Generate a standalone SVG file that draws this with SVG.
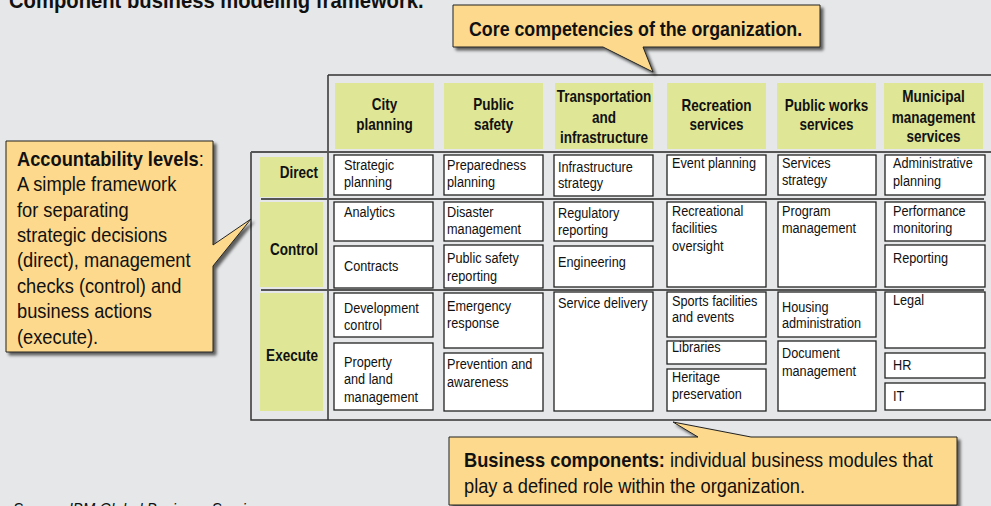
<svg xmlns="http://www.w3.org/2000/svg" width="991" height="506" viewBox="0 0 991 506">
<defs>
<filter id="sh" x="-10%" y="-10%" width="130%" height="130%">
<feDropShadow dx="3" dy="3" stdDeviation="1.5" flood-color="#000" flood-opacity="0.6"/>
</filter>
</defs>
<style>
text{font-family:"Liberation Sans",Arial,sans-serif;fill:#111;transform-box:fill-box}
.t{font-size:15.5px;transform:scaleX(.82);transform-origin:0 50%}
.h{font-size:16.5px;font-weight:bold;text-anchor:middle;transform:scaleX(.82);transform-origin:50% 50%}
.rl{font-size:16.5px;font-weight:bold;text-anchor:end;transform:scaleX(.82);transform-origin:100% 50%}
.c{font-size:21px;transform:scaleX(.87);transform-origin:0 50%}
.ttl{font-size:22px;font-weight:bold;transform:scaleX(.92);transform-origin:0 50%}
.cc{font-size:20px;font-weight:bold;transform:scaleX(.89);transform-origin:0 50%}
.src{font-size:17px;font-style:italic;transform:scaleX(.88);transform-origin:0 50%}
.b{font-weight:bold}
.hdr{fill:#dfe696}
.cell{fill:#fff;stroke:#222;stroke-width:1.3}
.co{fill:#fdd98d;stroke:#222;stroke-width:1;filter:url(#sh)}
.gl{fill:none;stroke:#333;stroke-width:1.5}
.sep{fill:none;stroke:#555;stroke-width:2}
</style>
<rect width="991" height="506" fill="#e6e7e8"/>
<text x="9" y="8" class="ttl">Component business modeling framework.</text>

<g id="connectors">
<path class="gl" d="M328,75 H995 M328,75 V420 M251,152 V420 H995"/>
<path class="sep" d="M251,152 H995 M261,199 H984 M261,290 H984"/>
</g>

<g id="headers">
<g id="h-city"><rect class="hdr" x="335" y="83" width="99" height="66"/><text class="h" x="384.5" y="110">City</text><text class="h" x="384.5" y="130">planning</text></g>
<g id="h-safety"><rect class="hdr" x="444" y="83" width="99" height="66"/><text class="h" x="493.5" y="110">Public</text><text class="h" x="493.5" y="130">safety</text></g>
<g id="h-transport"><rect class="hdr" x="555" y="83" width="98" height="66"/><text class="h" x="604" y="102">Transportation</text><text class="h" x="604" y="123">and</text><text class="h" x="604" y="143">infrastructure</text></g>
<g id="h-recreation"><rect class="hdr" x="667" y="83" width="99" height="66"/><text class="h" x="716.5" y="111">Recreation</text><text class="h" x="716.5" y="130">services</text></g>
<g id="h-works"><rect class="hdr" x="777" y="83" width="99" height="66"/><text class="h" x="826.5" y="111">Public works</text><text class="h" x="826.5" y="130">services</text></g>
<g id="h-municipal"><rect class="hdr" x="884" y="83" width="99" height="66"/><text class="h" x="933.5" y="102">Municipal</text><text class="h" x="933.5" y="123">management</text><text class="h" x="933.5" y="142">services</text></g>
</g>

<g id="rows">
<g id="r-direct"><rect class="hdr" x="260" y="157" width="63" height="40"/><text class="rl" x="318" y="178">Direct</text></g>
<g id="r-control"><rect class="hdr" x="260" y="202" width="63" height="85"/><text class="rl" x="318" y="255">Control</text></g>
<g id="r-execute"><rect class="hdr" x="260" y="293" width="63" height="118"/><text class="rl" x="318" y="361">Execute</text></g>
</g>

<g id="cells">
<g id="c-strategic"><rect class="cell" x="334" y="155" width="99" height="40"/><text class="t" x="344" y="170">Strategic</text><text class="t" x="344" y="187">planning</text></g>
<g id="c-analytics"><rect class="cell" x="334" y="202" width="99" height="39"/><text class="t" x="344" y="217">Analytics</text></g>
<g id="c-contracts"><rect class="cell" x="334" y="246" width="99" height="42"/><text class="t" x="344" y="271">Contracts</text></g>
<g id="c-devcontrol"><rect class="cell" x="334" y="293" width="99" height="44"/><text class="t" x="344" y="313">Development</text><text class="t" x="344" y="330">control</text></g>
<g id="c-property"><rect class="cell" x="334" y="343" width="99" height="67"/><text class="t" x="344" y="367">Property</text><text class="t" x="344" y="384">and land</text><text class="t" x="344" y="402">management</text></g>

<g id="c-preparedness"><rect class="cell" x="444" y="155" width="99" height="40"/><text class="t" x="447" y="170">Preparedness</text><text class="t" x="447" y="187">planning</text></g>
<g id="c-disaster"><rect class="cell" x="444" y="202" width="99" height="39"/><text class="t" x="447" y="217">Disaster</text><text class="t" x="447" y="234">management</text></g>
<g id="c-psreporting"><rect class="cell" x="444" y="245" width="99" height="43"/><text class="t" x="447" y="263">Public safety</text><text class="t" x="447" y="281">reporting</text></g>
<g id="c-emergency"><rect class="cell" x="444" y="293" width="99" height="55"/><text class="t" x="447" y="311">Emergency</text><text class="t" x="447" y="328">response</text></g>
<g id="c-prevention"><rect class="cell" x="444" y="353" width="99" height="58"/><text class="t" x="447" y="369">Prevention and</text><text class="t" x="447" y="387">awareness</text></g>

<g id="c-infrastrategy"><rect class="cell" x="554" y="155" width="99" height="41"/><text class="t" x="558" y="172">Infrastructure</text><text class="t" x="558" y="188">strategy</text></g>
<g id="c-regulatory"><rect class="cell" x="554" y="202" width="99" height="39"/><text class="t" x="558" y="218">Regulatory</text><text class="t" x="558" y="235">reporting</text></g>
<g id="c-engineering"><rect class="cell" x="554" y="246" width="99" height="41"/><text class="t" x="558" y="267">Engineering</text></g>
<g id="c-servicedelivery"><rect class="cell" x="554" y="292" width="99" height="119"/><text class="t" x="558" y="308">Service delivery</text></g>

<g id="c-event"><rect class="cell" x="667" y="155" width="99" height="40"/><text class="t" x="672" y="168">Event planning</text></g>
<g id="c-recfacilities"><rect class="cell" x="667" y="202" width="99" height="85"/><text class="t" x="672" y="216">Recreational</text><text class="t" x="672" y="233">facilities</text><text class="t" x="672" y="251">oversight</text></g>
<g id="c-sports"><rect class="cell" x="667" y="292" width="99" height="45"/><text class="t" x="672" y="306">Sports facilities</text><text class="t" x="672" y="322">and events</text></g>
<g id="c-libraries"><rect class="cell" x="667" y="341" width="99" height="23"/><text class="t" x="672" y="352">Libraries</text></g>
<g id="c-heritage"><rect class="cell" x="667" y="369" width="99" height="42"/><text class="t" x="672" y="382">Heritage</text><text class="t" x="672" y="399">preservation</text></g>

<g id="c-servstrategy"><rect class="cell" x="778" y="155" width="98" height="40"/><text class="t" x="782" y="168">Services</text><text class="t" x="782" y="185">strategy</text></g>
<g id="c-program"><rect class="cell" x="778" y="202" width="98" height="85"/><text class="t" x="782" y="216">Program</text><text class="t" x="782" y="233">management</text></g>
<g id="c-housing"><rect class="cell" x="778" y="292" width="98" height="45"/><text class="t" x="782" y="312">Housing</text><text class="t" x="782" y="328">administration</text></g>
<g id="c-document"><rect class="cell" x="778" y="341" width="98" height="70"/><text class="t" x="782" y="358">Document</text><text class="t" x="782" y="376">management</text></g>

<g id="c-admin"><rect class="cell" x="885" y="155" width="100" height="40"/><text class="t" x="893" y="168">Administrative</text><text class="t" x="893" y="186">planning</text></g>
<g id="c-performance"><rect class="cell" x="885" y="202" width="100" height="39"/><text class="t" x="893" y="216">Performance</text><text class="t" x="893" y="233">monitoring</text></g>
<g id="c-reporting"><rect class="cell" x="885" y="245" width="100" height="42"/><text class="t" x="893" y="263">Reporting</text></g>
<g id="c-legal"><rect class="cell" x="885" y="292" width="100" height="56"/><text class="t" x="893" y="305">Legal</text></g>
<g id="c-hr"><rect class="cell" x="885" y="353" width="100" height="25"/><text class="t" x="893" y="370">HR</text></g>
<g id="c-it"><rect class="cell" x="885" y="383" width="100" height="27"/><text class="t" x="893" y="401">IT</text></g>
</g>

<g id="callout-core">
<path class="co" d="M453,5 H820 V47 H643 L653,72 L603,47 H453 Z"/>
<text x="469" y="36" class="cc">Core competencies of the organization.</text>
</g>

<g id="callout-levels">
<path class="co" d="M6,141 H213 V245 L251,219 L213,266 V352 H6 Z"/>
<text class="c" x="17" y="166"><tspan class="b">Accountability levels</tspan>:</text>
<text class="c" x="17" y="191">A simple framework</text>
<text class="c" x="17" y="217">for separating</text>
<text class="c" x="17" y="242">strategic decisions</text>
<text class="c" x="17" y="267">(direct), management</text>
<text class="c" x="17" y="293">checks (control) and</text>
<text class="c" x="17" y="318">business actions</text>
<text class="c" x="17" y="344">(execute).</text>
</g>

<g id="callout-components">
<path class="co" d="M449,437 H698 L673,422 L751,437 H957 V505 H449 Z"/>
<text class="c" x="464" y="467"><tspan class="b">Business components:</tspan> individual business modules that</text>
<text class="c" x="464" y="493">play a defined role within the organization.</text>
</g>

<text x="13" y="515" class="src">Source: IBM Global Business Services.</text>
</svg>
